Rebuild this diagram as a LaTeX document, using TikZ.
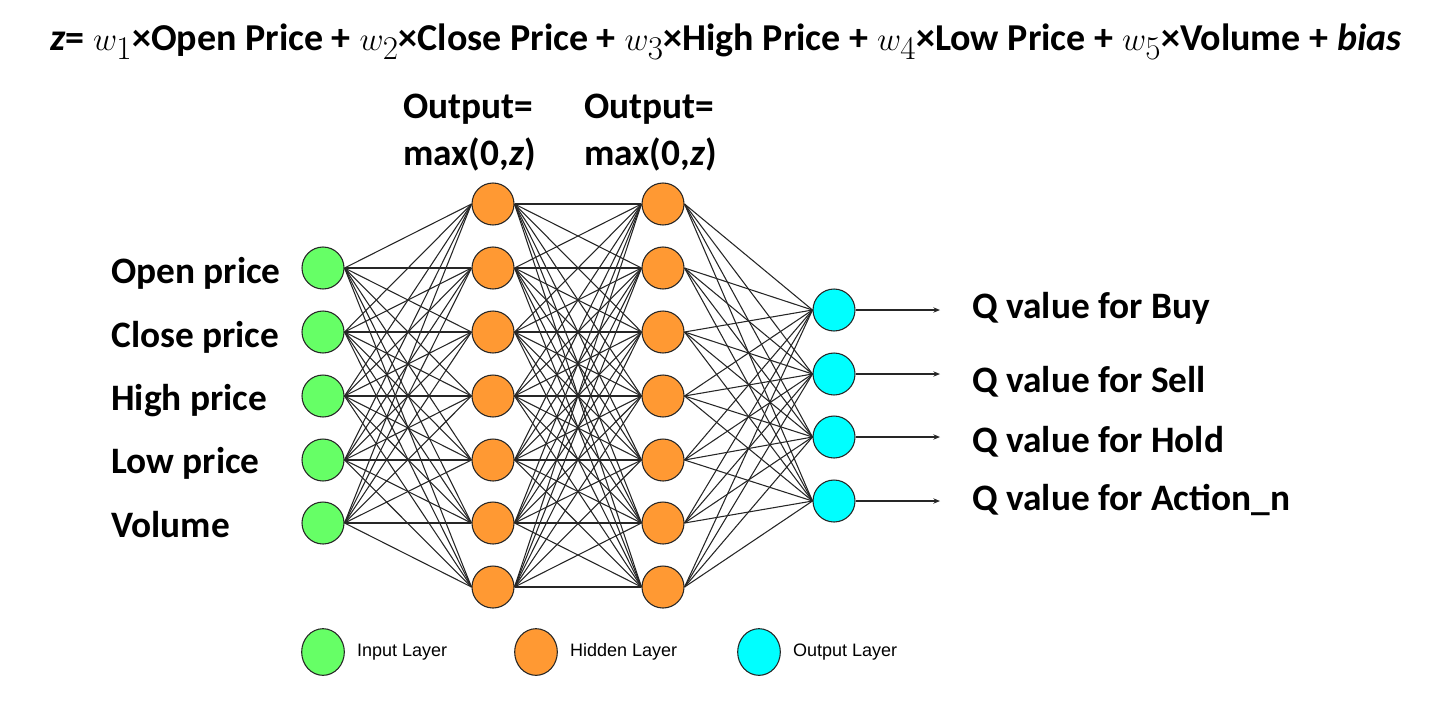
\documentclass[tikz,border=0pt]{standalone}
\usepackage{fontspec}
\setmainfont{Carlito}
\newfontfamily\legendfont{Liberation Sans}
\definecolor{InGreen}{RGB}{102, 255, 102}
\definecolor{HidOrange}{RGB}{255, 153, 51}
\definecolor{OutCyan}{RGB}{0, 255, 255}
\usetikzlibrary{arrows.meta, positioning, shapes.geometric}
\newcommand{\wgt}[1]{{\fontsize{33}{34}\selectfont$w_{#1}$}}

\begin{document}
\begin{tikzpicture}[x=0.75pt, y=-0.75pt, >=Stealth,
    every node/.style={font=\fontsize{28}{34}\selectfont\bfseries},
    neuron/.style={draw=black!85, circle, line width=0.8pt, minimum size=31.5pt, inner sep=0pt},
    inneuron/.style={neuron, fill=InGreen},
    hidneuron/.style={neuron, fill=HidOrange},
    outneuron/.style={neuron, fill=OutCyan},
    link/.style={line width=0.8pt, black!85},
    txtlbl/.style={anchor=base west, inner sep=0pt},
    legbox/.style={draw=black!85, ellipse, line width=0.8pt, minimum width=32pt, minimum height=35pt, inner sep=0pt},
    legtext/.style={inner sep=0pt, font=\legendfont\fontsize{13.5}{16}\selectfont}]
    \useasboundingbox (0,0) rectangle (1433,708);

    % Formula
    \node[txtlbl, font=\fontsize{28.5}{34}\selectfont\bfseries] (zeq) at (50,50) {\textit{z}= \wgt{1}×Open Price + \wgt{2}×Close Price + \wgt{3}×High Price + \wgt{4}×Low Price + \wgt{5}×Volume + \textit{bias}};

    % Layers
    \foreach \y [count=\i] in {268,332,396,460,523}
        \node[inneuron] (in\i) at (323,\y) {};
    \foreach \y [count=\i] in {204,268,332,396,460,523,587} {
        \node[hidneuron] (ha\i) at (493,\y) {};
        \node[hidneuron] (hb\i) at (663,\y) {};
    }
    \foreach \y [count=\i] in {310,374,437,501} {
        \node[outneuron] (out\i) at (834,\y) {};
        \coordinate (qend\i) at (940,\y);
    }

    % Connections
    \foreach \i in {1,...,5}
        \foreach \j in {1,...,7}
            \draw[link] (in\i.east) -- (ha\j.west);
    \foreach \i in {1,...,7}
        \foreach \j in {1,...,7}
            \draw[link] (ha\i.east) -- (hb\j.west);
    \foreach \i in {1,...,7}
        \foreach \j in {1,...,4}
            \draw[link] (hb\i.east) -- (out\j.west);
    \foreach \i in {1,...,4}
        \draw[link, -{Stealth[length=5pt, width=4pt]}] (out\i.east) -- (qend\i);

    % Activation headers
    \node[txtlbl] (acta) at (403,118) {Output=};
    \node[txtlbl] (relua) at (403,165) {max(0,\textit{z})};
    \node[txtlbl] (actb) at (584,118) {Output=};
    \node[txtlbl] (relub) at (584,165) {max(0,\textit{z})};

    % Inputs
    \node[txtlbl] (lopen) at (111,283) {Open price};
    \node[txtlbl] (lclose) at (111,347) {Close price};
    \node[txtlbl] (lhigh) at (111,410) {High price};
    \node[txtlbl] (llow) at (111,473) {Low price};
    \node[txtlbl] (lvol) at (111,537) {Volume};

    % Outputs
    \node[txtlbl] (qbuy) at (972,318) {Q value for Buy};
    \node[txtlbl] (qsell) at (972,392) {Q value for Sell};
    \node[txtlbl] (qhold) at (972,452) {Q value for Hold};
    \node[txtlbl] (qact) at (972,510) {Q value for Action\_n};

    % Legend
    \node[legbox, fill=InGreen] (legin) at (323,652) {};
    \node[legtext, right=9pt of legin] (tin) {Input Layer};
    \node[legbox, fill=HidOrange] (leghid) at (536,652) {};
    \node[legtext, right=9pt of leghid] (thid) {Hidden Layer};
    \node[legbox, fill=OutCyan] (legout) at (759,652) {};
    \node[legtext, right=9pt of legout] (tout) {Output Layer};
\end{tikzpicture}
\end{document}
